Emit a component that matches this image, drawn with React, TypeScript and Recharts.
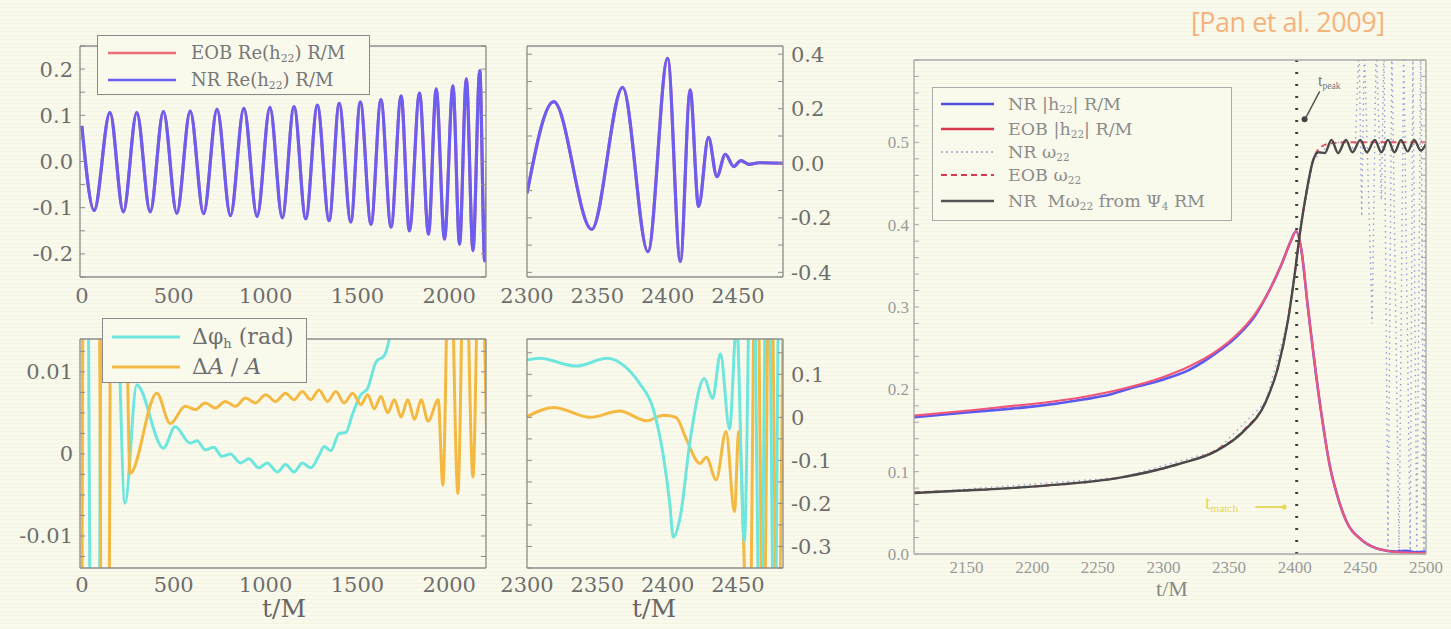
import React from 'react';
import { LineChart, Line, XAxis, YAxis, ReferenceLine, ReferenceDot } from 'recharts';

type Pair = [number, number];

// top left: Re(h22) inspiral, turning points
const inspiralH: Pair[] = [
  [0, 0.077], [67, -0.106], [153, 0.106], [226, -0.109], [299, 0.106], [372, -0.109],
  [444, 0.108], [517, -0.112], [590, 0.109], [663, -0.113], [736, 0.113], [809, -0.117],
  [882, 0.115], [954, -0.119], [1024, 0.117], [1091, -0.122], [1155, 0.119], [1219, -0.124],
  [1282, 0.122], [1346, -0.128], [1401, 0.126], [1464, -0.131], [1516, 0.129], [1574, -0.136],
  [1628, 0.134], [1683, -0.142], [1738, 0.142], [1783, -0.15], [1838, 0.148], [1887, -0.157],
  [1929, 0.157], [1974, -0.168], [2020, 0.164], [2056, -0.179], [2093, 0.179], [2129, -0.193],
  [2166, 0.197], [2193, -0.215], [2215, 0.2],
];

// top middle: merger / ringdown
const mergerH: Pair[] = [
  [2300, -0.11], [2319, 0.226], [2346, -0.242], [2368, 0.278], [2386, -0.324], [2400, 0.385],
  [2409, -0.36], [2416, 0.269], [2422, -0.159], [2429, 0.095], [2435, -0.049], [2441, 0.033],
  [2447, -0.012], [2452, 0.01], [2458, -0.004], [2465, 0.002], [2482, 0],
];

// bottom left: phase and amplitude differences (values beyond the frame are clipped)
const dPhiEarly: Pair[] = [
  [-10, 0.03], [30, 0.03], [50, -0.03], [92, -0.03], [108, 0.03], [175, 0.03], [235, -0.006],
  [299, 0.0084], [444, 0.0007], [508, 0.0033], [590, 0.0013], [627, 0.0016], [672, 0.0005],
  [718, 0.0008], [763, -0.0003], [809, 0], [863, -0.0011], [909, -0.0006], [964, -0.0017],
  [1009, -0.0011], [1064, -0.0022], [1109, -0.0013], [1155, -0.0022], [1200, -0.0011],
  [1246, -0.0017], [1291, -0.0002], [1319, 0.0009], [1355, 0.0004], [1401, 0.0025],
  [1437, 0.0026], [1474, 0.0049], [1519, 0.0072], [1556, 0.008], [1601, 0.0112],
  [1647, 0.012], [1690, 0.016], [1760, 0.03], [2210, 0.03],
];
const dAmpEarly: Pair[] = [
  [-10, -0.03], [-2, -0.03], [8, 0.03], [92, 0.03], [108, -0.03], [145, -0.03], [160, 0.03],
  [232, 0.03], [262, -0.0024], [408, 0.0074], [481, 0.0037], [563, 0.0058], [617, 0.0054],
  [672, 0.0062], [727, 0.0056], [781, 0.0064], [836, 0.0058], [891, 0.0068], [945, 0.0062],
  [1000, 0.0072], [1055, 0.0064], [1109, 0.0074], [1155, 0.0066], [1200, 0.0076],
  [1246, 0.0066], [1291, 0.0078], [1337, 0.0064], [1383, 0.0076], [1428, 0.0062],
  [1474, 0.0074], [1519, 0.006], [1556, 0.0072], [1592, 0.0055], [1628, 0.007], [1665, 0.005],
  [1701, 0.0066], [1738, 0.0045], [1774, 0.0066], [1811, 0.0042], [1847, 0.0066],
  [1885, 0.004], [1940, 0.0066], [1965, -0.0038], [2002, 0.03], [2047, -0.0048],
  [2084, 0.03], [2129, -0.0028], [2166, 0.03], [2205, 0],
];

// bottom middle
const dPhiLate: Pair[] = [
  [2300, 0.133], [2309, 0.137], [2335, 0.119], [2357, 0.137], [2366, 0.127], [2380, 0.079],
  [2390, 0.017], [2397, -0.091], [2401.5, -0.2], [2404, -0.278], [2409, -0.23], [2416, -0.053],
  [2426, 0.09], [2432, 0.044], [2437.5, 0.148], [2444, -0.027], [2449, 0.22], [2454.5, -0.288],
  [2460, 0.6], [2466, -0.6], [2471, 0.6], [2476, -0.6], [2480, 0.6], [2485, -0.6],
];
const dAmpLate: Pair[] = [
  [2300, 0.0015], [2319, 0.023], [2345, 0], [2366, 0.015], [2385, -0.008], [2397, 0.005],
  [2406, 0], [2413, -0.049], [2423, -0.107], [2427.5, -0.093], [2434.5, -0.145],
  [2441.5, -0.033], [2447.5, -0.219], [2450.5, -0.033], [2458, -0.6], [2463, 0.6],
  [2468, -0.6], [2473, 0.6], [2478, -0.6], [2483, 0.6],
];

// right: amplitude and frequency around merger
const nrAmp: Pair[] = [
  [2110, 0.166], [2150, 0.172], [2180, 0.176], [2200, 0.179], [2240, 0.188], [2260, 0.194],
  [2270, 0.199], [2300, 0.212], [2320, 0.224], [2340, 0.244], [2355, 0.263], [2370, 0.29],
  [2380, 0.318], [2390, 0.352], [2397, 0.38], [2401, 0.392], [2405, 0.37], [2410, 0.3],
  [2419, 0.185], [2427, 0.105], [2433, 0.068], [2439, 0.041], [2451, 0.017], [2462, 0.007],
  [2470, 0.004], [2478, 0.003], [2485, 0.004], [2492, 0.002], [2500, 0.003],
];
const eobAmp: Pair[] = [
  [2110, 0.168], [2150, 0.174], [2180, 0.179], [2210, 0.184], [2240, 0.191], [2270, 0.201],
  [2300, 0.215], [2320, 0.228], [2340, 0.246], [2355, 0.265], [2370, 0.292], [2380, 0.318],
  [2390, 0.352], [2397, 0.38], [2401, 0.392], [2405, 0.37], [2410, 0.3], [2419, 0.185],
  [2427, 0.105], [2433, 0.068], [2439, 0.041], [2451, 0.017], [2462, 0.007], [2470, 0.004],
  [2480, 0.002], [2500, 0.001],
];
const nrOmegaPsi4: Pair[] = [
  [2110, 0.074], [2160, 0.078], [2210, 0.083], [2268, 0.093], [2311, 0.109], [2340, 0.125],
  [2361, 0.149], [2378, 0.185], [2387, 0.225], [2395, 0.285], [2400, 0.34], [2404, 0.39],
  [2409, 0.44], [2414, 0.478], [2418, 0.488], [2423, 0.487], [2428, 0.503], [2433, 0.487],
  [2439, 0.503], [2444, 0.488], [2450, 0.503], [2455, 0.488], [2461, 0.503], [2466, 0.488],
  [2471, 0.503], [2476, 0.488], [2481, 0.503], [2486, 0.489], [2491, 0.503], [2496, 0.49],
  [2500, 0.498],
];
const eobOmega: Pair[] = [
  [2110, 0.075], [2210, 0.083], [2268, 0.093], [2311, 0.109], [2340, 0.126], [2361, 0.15],
  [2378, 0.186], [2387, 0.226], [2395, 0.286], [2400, 0.34], [2404, 0.39], [2409, 0.44],
  [2414, 0.478], [2419, 0.493], [2428, 0.499], [2440, 0.5], [2500, 0.5],
];
const nrOmega: Pair[] = [
  [2110, 0.074], [2268, 0.093], [2340, 0.125], [2378, 0.185], [2395, 0.285], [2404, 0.39],
  [2414, 0.478], [2428, 0.5], [2440, 0.5], [2446, 0.49], [2449, 0.62], [2451, 0.41],
  [2453, 0.62], [2459, 0.28], [2462, 0.62], [2466, 0.43], [2468, 0.62], [2471, 0],
  [2474, 0.62], [2479.5, 0], [2483, 0.62], [2488, 0], [2490, 0.62], [2493, 0], [2496, 0.62],
  [2498.5, 0], [2500, 0.62],
];

const tPeak = 2401.5;

// tick labels
const ticksLongT = [0, 500, 1000, 1500, 2000];
const ticksShortT = [2300, 2350, 2400, 2450];
const ticksRightT = [2150, 2200, 2250, 2300, 2350, 2400, 2450, 2500];
const ticksH = [-0.2, -0.1, 0, 0.1, 0.2];
const ticksHMerger = [-0.4, -0.2, 0, 0.2, 0.4];
const ticksDiff = [-0.01, 0, 0.01];
const ticksDiffLate = [-0.3, -0.2, -0.1, 0, 0.1];
const ticksRightY = [0, 0.1, 0.2, 0.3, 0.4, 0.5];

const steps = (a: number, b: number, d: number) => {
  const out: number[] = [];
  for (let i = 0; a + i * d <= b + 1e-9; i++) out.push(+(a + i * d).toFixed(4));
  return out;
};

const rows = (p: Pair[]) => p.map(([t, v]) => ({ t, v }));

const BG = '#fafaec';
const SERIF = '"DejaVu Serif", serif';
const TIMES = '"Liberation Serif", serif';

type AxesOpts = {
  xDomain: [number, number]; yDomain: [number, number];
  xTicks: number[]; yTicks: number[]; xMinor: number[]; yMinor: number[];
  ySide: 'left' | 'right'; yWidth: number; xHeight: number;
  font: string; fontSize: number; color: string; frame: string;
  xGap: number; yGap: number; yFmt: (v: number) => string;
};

const noLabel = () => null;

// main labelled axes plus four mirrored ones that draw the frame and inward ticks
function axes(o: AxesOpts) {
  const tick = { fill: o.color, fontSize: o.fontSize, fontFamily: o.font };
  const minor = {
    tick: noLabel, tickSize: 5, interval: 0 as const, allowDataOverflow: true,
    type: 'number' as const, mirror: true,
    axisLine: { stroke: o.frame, strokeWidth: 1.3 }, tickLine: { stroke: o.frame, strokeWidth: 1 },
  };
  return [
    <XAxis key="x" type="number" dataKey="t" domain={o.xDomain} allowDataOverflow ticks={o.xTicks}
      interval={0} tickLine={false} axisLine={false} tickSize={0} tickMargin={o.xGap} height={o.xHeight} tick={tick} />,
    <YAxis key="y" type="number" orientation={o.ySide} domain={o.yDomain} allowDataOverflow ticks={o.yTicks}
      interval={0} tickLine={false} axisLine={false} tickSize={0} tickMargin={o.yGap} width={o.yWidth} tick={tick}
      tickFormatter={o.yFmt} />,
    <XAxis key="xt" xAxisId="top" orientation="top" domain={o.xDomain} ticks={o.xMinor} height={1} {...minor} />,
    <XAxis key="xb" xAxisId="bot" orientation="bottom" domain={o.xDomain} ticks={o.xMinor} height={1} {...minor} />,
    <YAxis key="yl" yAxisId="left" orientation="left" domain={o.yDomain} ticks={o.yMinor} width={1} {...minor} />,
    <YAxis key="yr" yAxisId="right" orientation="right" domain={o.yDomain} ticks={o.yMinor} width={1} {...minor} />,
  ];
}

const line = (key: string, data: Pair[], stroke: string, width: number, extra: object = {}) => (
  <Line key={key} data={rows(data)} dataKey="v" type="monotone" dot={false} activeDot={false}
    stroke={stroke} strokeWidth={width} isAnimationActive={false} {...extra} />
);

const LegendRow = ({ y, sample, children, x0, w, textX, font, size, color }: any) => (
  <div style={{ position: 'absolute', left: 0, top: y - 15, height: 30, width: '100%' }}>
    <svg width={w} height={30} style={{ position: 'absolute', left: x0 }}>
      <line x1={0} x2={w} y1={15} y2={15} {...sample} />
    </svg>
    <span style={{ position: 'absolute', left: textX, fontFamily: font, fontSize: size, color, whiteSpace: 'nowrap', lineHeight: '30px' }}>
      {children}
    </span>
  </div>
);

const sub = (s: string) => <sub style={{ fontSize: '0.6em', verticalAlign: '-0.3em' }}>{s}</sub>;

const BLUE = '#6c5ef0';
const RED = '#f06a78';
const CYAN = '#6ee6de';
const ORANGE = '#f3b942';
const TICK = '#6e6e6e';
const FRAME = '#8c8c8c';

const abs = (left: number, top: number): React.CSSProperties => ({ position: 'absolute', left, top });

export default function App() {
  const f1 = (v: number) => v.toFixed(1);
  const fs = (v: number) => String(v);
  return (
    <div style={{
      position: 'absolute', left: 0, top: 0, width: 1451, height: 629, overflow: 'hidden',
      background: `repeating-linear-gradient(180deg, ${BG} 0px, ${BG} 3px, #f4f4e4 3px, #f4f4e4 4px)`,
    }}>
      {/* top left */}
      <div style={abs(0, 0)}>
        <LineChart width={500} height={320} margin={{ top: 46, right: 14, left: 0, bottom: 3 }}>
          {axes({ xDomain: [-10, 2200], yDomain: [-0.25, 0.25], xTicks: ticksLongT, yTicks: ticksH,
            xMinor: steps(0, 2200, 100), yMinor: steps(-0.25, 0.25, 0.05), ySide: 'left', yWidth: 80, xHeight: 40,
            font: SERIF, fontSize: 21, color: TICK, frame: FRAME, xGap: 11, yGap: 7, yFmt: f1 })}
          {line('eob', inspiralH, RED, 3)}
          {line('nr', inspiralH, BLUE, 3.2)}
        </LineChart>
      </div>
      {/* top middle */}
      <div style={abs(500, 0)}>
        <LineChart width={360} height={320} margin={{ top: 46, right: 0, left: 27, bottom: 3 }}>
          {axes({ xDomain: [2300, 2482], yDomain: [-0.417, 0.43], xTicks: ticksShortT, yTicks: ticksHMerger,
            xMinor: steps(2300, 2480, 10), yMinor: steps(-0.4, 0.4, 0.1), ySide: 'right', yWidth: 77, xHeight: 40,
            font: SERIF, fontSize: 21, color: TICK, frame: FRAME, xGap: 11, yGap: 8, yFmt: f1 })}
          {line('eob', mergerH, RED, 3)}
          {line('nr', mergerH, BLUE, 3.2)}
        </LineChart>
      </div>
      {/* bottom left */}
      <div style={abs(0, 300)}>
        <LineChart width={500} height={329} margin={{ top: 39, right: 14, left: 0, bottom: 21 }}>
          {axes({ xDomain: [-10, 2200], yDomain: [-0.0139, 0.014], xTicks: ticksLongT, yTicks: ticksDiff,
            xMinor: steps(0, 2200, 100), yMinor: steps(-0.0125, 0.0125, 0.0025), ySide: 'left', yWidth: 80, xHeight: 40,
            font: SERIF, fontSize: 21, color: TICK, frame: FRAME, xGap: 9, yGap: 7, yFmt: fs })}
          {line('dphi', dPhiEarly, CYAN, 3)}
          {line('damp', dAmpEarly, ORANGE, 3)}
        </LineChart>
      </div>
      {/* bottom middle */}
      <div style={abs(500, 300)}>
        <LineChart width={360} height={329} margin={{ top: 39, right: 0, left: 27, bottom: 21 }}>
          {axes({ xDomain: [2300, 2482], yDomain: [-0.35, 0.182], xTicks: ticksShortT, yTicks: ticksDiffLate,
            xMinor: steps(2300, 2480, 10), yMinor: steps(-0.35, 0.15, 0.05), ySide: 'right', yWidth: 77, xHeight: 40,
            font: SERIF, fontSize: 21, color: TICK, frame: FRAME, xGap: 9, yGap: 8, yFmt: fs })}
          {line('damp', dAmpLate, ORANGE, 3)}
          {line('dphi', dPhiLate, CYAN, 3)}
        </LineChart>
      </div>
      {/* right */}
      <div style={abs(860, 0)}>
        <LineChart width={591} height={629} margin={{ top: 60, right: 25, left: 0, bottom: 45 }}>
          {axes({ xDomain: [2110, 2500], yDomain: [0, 0.6], xTicks: ticksRightT, yTicks: ticksRightY,
            xMinor: steps(2110, 2500, 10), yMinor: steps(0, 0.6, 0.02), ySide: 'left', yWidth: 54, xHeight: 30,
            font: TIMES, fontSize: 17, color: '#9a9a9a', frame: '#a8a8a8', xGap: 7, yGap: 5, yFmt: f1 })}
          <ReferenceLine x={tPeak} stroke="#444" strokeWidth={3} strokeDasharray="2 10" />
          {line('nrw', nrOmega, '#96a0d6', 1.4, { type: 'linear', strokeDasharray: '1.5 4' })}
          {line('nra', nrAmp, '#5a5af0', 2.6)}
          {line('eoba', eobAmp, '#f0567a', 2.2)}
          {line('eobw', eobOmega, '#e8506a', 2, { strokeDasharray: '6 4' })}
          {line('nrw4', nrOmegaPsi4, '#4a4a4a', 2.4)}
          <ReferenceLine segment={[{ x: 2419, y: 0.562 }, { x: 2407.8, y: 0.528 }]} stroke="#555" strokeWidth={1.5} />
          <ReferenceDot x={2407.5} y={0.528} r={3} fill="#444" stroke="none" />
          <ReferenceLine segment={[{ x: 2370, y: 0.057 }, { x: 2392, y: 0.057 }]} stroke="#e2d860" strokeWidth={2} />
          <ReferenceDot x={2392} y={0.057} r={2.5} fill="#e2d860" stroke="none" />
        </LineChart>
      </div>

      {/* legends */}
      <div style={{ ...abs(97, 35), width: 273, height: 60, border: '1.5px solid #8a8a8a', background: BG, boxSizing: 'border-box' }}>
        <LegendRow y={17} x0={10} w={68} textX={93} font={SERIF} size={18} color="#777"
          sample={{ stroke: RED, strokeWidth: 2.5 }}>EOB Re(h{sub('22')}) R/M</LegendRow>
        <LegendRow y={44} x0={10} w={68} textX={93} font={SERIF} size={18} color="#777"
          sample={{ stroke: BLUE, strokeWidth: 2.5 }}>NR Re(h{sub('22')}) R/M</LegendRow>
      </div>
      <div style={{ ...abs(102, 318), width: 205, height: 65, border: '1.5px solid #8a8a8a', background: BG, boxSizing: 'border-box' }}>
        <LegendRow y={18} x0={9} w={68} textX={89} font={SERIF} size={22} color="#6e6e6e"
          sample={{ stroke: CYAN, strokeWidth: 3 }}>Δφ{sub('h')} (rad)</LegendRow>
        <LegendRow y={48} x0={9} w={68} textX={89} font={SERIF} size={22} color="#6e6e6e"
          sample={{ stroke: ORANGE, strokeWidth: 3 }}>Δ<i>A</i> / <i>A</i></LegendRow>
      </div>
      <div style={{ ...abs(932, 87), width: 300, height: 134, border: '1.5px solid #aaa', background: BG, boxSizing: 'border-box' }}>
        <LegendRow y={16} x0={8} w={53} textX={75} font={SERIF} size={17.5} color="#8c8c8c"
          sample={{ stroke: '#5050e0', strokeWidth: 2.5 }}>NR |h{sub('22')}| R/M</LegendRow>
        <LegendRow y={41} x0={8} w={53} textX={75} font={SERIF} size={17.5} color="#8c8c8c"
          sample={{ stroke: '#d83850', strokeWidth: 2.5 }}>EOB |h{sub('22')}| R/M</LegendRow>
        <LegendRow y={64} x0={8} w={53} textX={75} font={SERIF} size={17.5} color="#8c8c8c"
          sample={{ stroke: '#9aa0d0', strokeWidth: 1.5, strokeDasharray: '2 3' }}>NR ω{sub('22')}</LegendRow>
        <LegendRow y={87} x0={8} w={53} textX={75} font={SERIF} size={17.5} color="#8c8c8c"
          sample={{ stroke: '#d83850', strokeWidth: 2, strokeDasharray: '6 4' }}>EOB ω{sub('22')}</LegendRow>
        <LegendRow y={113} x0={8} w={53} textX={75} font={SERIF} size={17.5} color="#8c8c8c"
          sample={{ stroke: '#555', strokeWidth: 2.5 }}>NR&nbsp; Mω{sub('22')} from Ψ{sub('4')} RM</LegendRow>
      </div>

      {/* annotations */}
      <div style={{ ...abs(1318, 72), fontFamily: TIMES, fontSize: 16, color: '#777' }}>t{sub('peak')}</div>
      <div style={{ ...abs(1205, 492), fontFamily: TIMES, fontSize: 19, color: '#e2d860' }}>t{sub('match')}</div>
      <div style={{ ...abs(1191, 3), fontFamily: '"Open Sans", sans-serif', fontSize: 27, color: '#f5b37c', letterSpacing: -0.5 }}>
        [Pan et al. 2009]
      </div>
      <div style={{ ...abs(234, 594), width: 100, textAlign: 'center', fontFamily: SERIF, fontSize: 25, color: '#666' }}>t/M</div>
      <div style={{ ...abs(604, 594), width: 100, textAlign: 'center', fontFamily: SERIF, fontSize: 25, color: '#666' }}>t/M</div>
      <div style={{ ...abs(1122, 576), width: 100, textAlign: 'center', fontFamily: TIMES, fontSize: 22, color: '#888' }}>t/M</div>
    </div>
  );
}
